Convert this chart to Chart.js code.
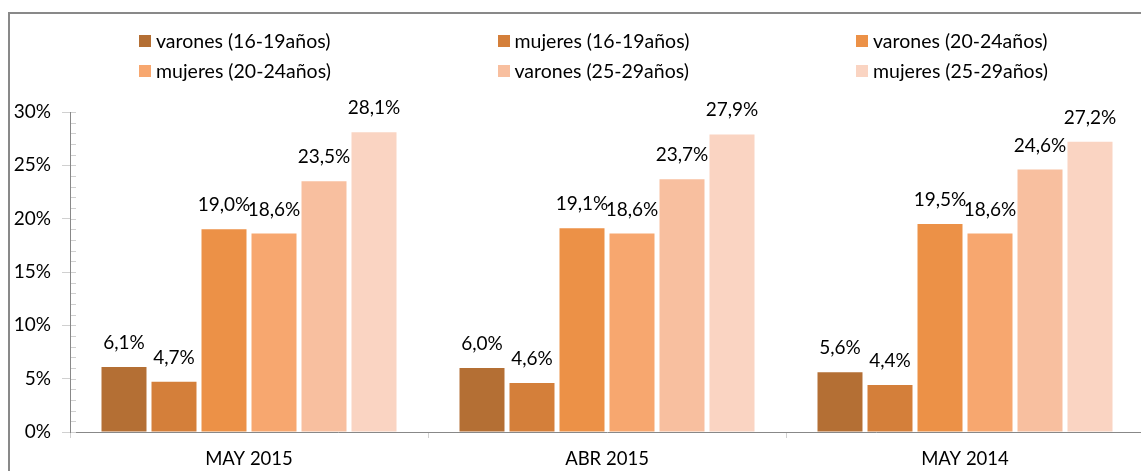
<!DOCTYPE html>
<html>
<head>
<meta charset="utf-8">
<script src="https://cdn.jsdelivr.net/npm/chart.js@4"></script>
<style>
  body { margin: 0; overflow: hidden; background: #fff; font-family: Lato, sans-serif; }
  #frame { position: absolute; left: 8px; top: 12px; width: 1200px; height: 500px; border: 2px solid #898989; }
  #wrap { position: absolute; left: 0; top: 0; width: 1146px; height: 471px; }
  #legend { position: absolute; left: 0; top: 0; }
  .item { position: absolute; display: flex; align-items: center; font-size: 19.5px; color: #000; white-space: nowrap; }
  .box { width: 12px; height: 12px; margin-right: 5px; }
</style>
</head>
<body>
<div id="frame"></div>
<div id="wrap"><canvas id="chart"></canvas></div>
<div id="legend"></div>
<script>
const categories = ['MAY 2015', 'ABR 2015', 'MAY 2014'];
const seriesNames = ['varones (16-19años)', 'mujeres (16-19años)', 'varones (20-24años)',
                     'mujeres (20-24años)', 'varones (25-29años)', 'mujeres (25-29años)'];
const varones1619 = [6.1, 6.0, 5.6];
const mujeres1619 = [4.7, 4.6, 4.4];
const varones2024 = [19.0, 19.1, 19.5];
const mujeres2024 = [18.6, 18.6, 18.6];
const varones2529 = [23.5, 23.7, 24.6];
const mujeres2529 = [28.1, 27.9, 27.2];
const colors = ['#B46F34', '#D47F3A', '#EC9147', '#F7A76F', '#F8BF9F', '#FAD4C2'];

const seriesValues = [varones1619, mujeres1619, varones2024, mujeres2024, varones2529, mujeres2529];
const FONT = 'Lato';

// value labels above each bar, "6,1%" style
const barLabels = {
  id: 'barLabels',
  afterDatasetsDraw(chart) {
    const ctx = chart.ctx;
    ctx.save();
    ctx.font = '19px ' + FONT;
    ctx.fillStyle = '#000';
    ctx.textAlign = 'center';
    ctx.textBaseline = 'alphabetic';
    chart.data.datasets.forEach((ds, i) => {
      chart.getDatasetMeta(i).data.forEach((bar, j) => {
        const txt = ds.data[j].toFixed(1).replace('.', ',') + '%';
        ctx.fillText(txt, bar.x, bar.y - 18);
      });
    });
    ctx.restore();
  }
};

// small inside tick marks on the value axis, one per 1%
const minorTicks = {
  id: 'minorTicks',
  afterDraw(chart) {
    const y = chart.scales.y;
    const ctx = chart.ctx;
    const left = chart.chartArea.left;
    ctx.save();
    ctx.strokeStyle = '#d0d0d0';
    ctx.lineWidth = 1;
    for (let v = y.min; v <= y.max; v++) {
      const py = Math.round(y.getPixelForValue(v)) + 0.5;
      ctx.beginPath();
      ctx.moveTo(left + 1, py);
      ctx.lineTo(left + 6, py);
      ctx.stroke();
    }
    ctx.restore();
  }
};

const chart = new Chart(document.getElementById('chart'), {
  type: 'bar',
  data: {
    labels: categories,
    datasets: seriesValues.map((vals, i) => ({
      label: seriesNames[i],
      data: vals,
      backgroundColor: colors[i],
      barPercentage: 0.9,
      categoryPercentage: 0.838
    }))
  },
  options: {
    responsive: true,
    maintainAspectRatio: false,
    animation: false,
    layout: { padding: { top: 112, right: 2, left: 0, bottom: 0 } },
    plugins: { legend: { display: false }, tooltip: { enabled: false } },
    scales: {
      x: {
        afterFit: s => { s.height = 39; },
        grid: { drawOnChartArea: false, tickLength: 6, tickColor: '#d0d0d0', offset: true },
        border: { color: '#888', width: 1 },
        ticks: { color: '#000', font: { family: FONT, size: 18.5 }, padding: 10 }
      },
      y: {
        min: 0,
        max: 30,
        afterFit: s => { s.width = 70; },
        grid: { drawOnChartArea: false, tickLength: 8, tickColor: '#d0d0d0' },
        border: { color: '#888', width: 1 },
        ticks: {
          stepSize: 5,
          color: '#000',
          font: { family: FONT, size: 19 },
          padding: 11,
          callback: v => v + '%'
        }
      }
    }
  },
  plugins: [barLabels, minorTicks]
});

// legend laid out in a 3-column grid like the original
const legendEl = document.getElementById('legend');
seriesNames.forEach((name, i) => {
  const col = i % 3, row = Math.floor(i / 3);
  const item = document.createElement('div');
  item.className = 'item';
  item.style.left = (139 + col * 358.5) + 'px';
  item.style.top = (29 + row * 30) + 'px';
  item.innerHTML = `<span class="box" style="background:${colors[i]}"></span><span>${name}</span>`;
  legendEl.appendChild(item);
});
</script>
</body>
</html>
